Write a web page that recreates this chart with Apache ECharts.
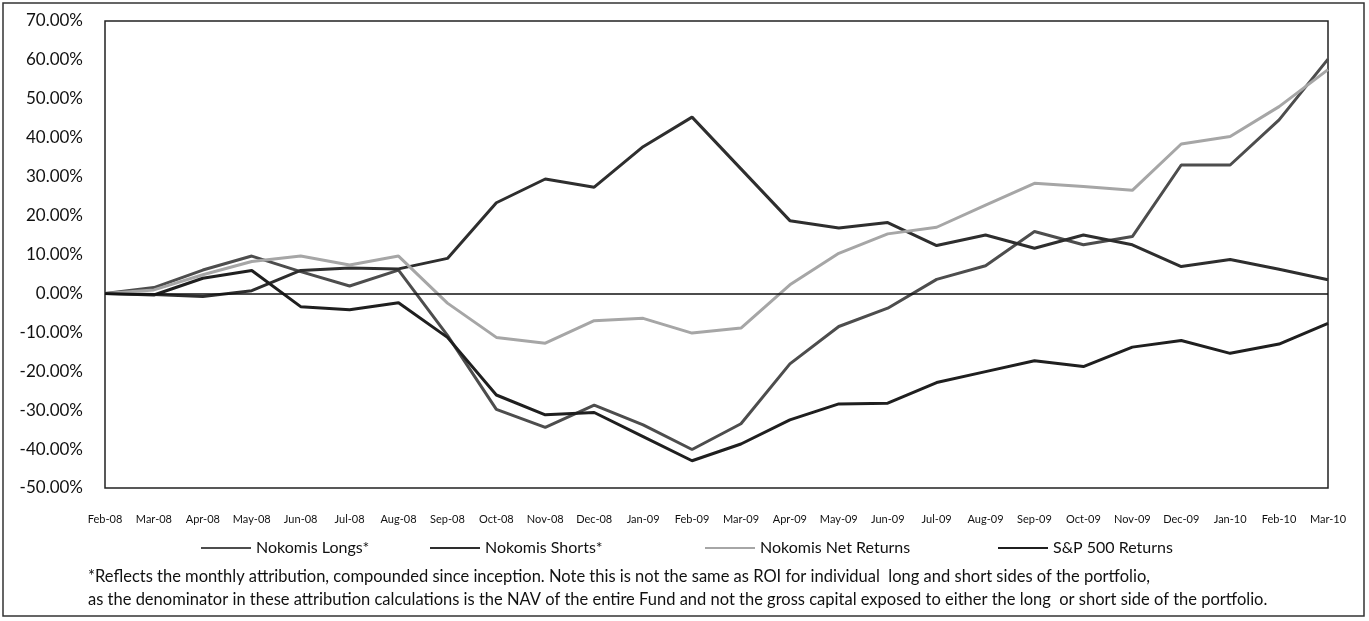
<!DOCTYPE html>
<html>
<head>
<meta charset="utf-8">
<script src="https://cdn.jsdelivr.net/npm/echarts@6/dist/echarts.min.js"></script>
<style>
  html, body { margin: 0; padding: 0; background: #fff; }
  #chart { width: 1369px; height: 621px; }
</style>
</head>
<body>
<div id="chart"></div>
<script>
// Monthly points, Feb-08 through Mar-10
const months = ['Feb-08','Mar-08','Apr-08','May-08','Jun-08','Jul-08','Aug-08','Sep-08','Oct-08','Nov-08','Dec-08','Jan-09','Feb-09','Mar-09','Apr-09','May-09','Jun-09','Jul-09','Aug-09','Sep-09','Oct-09','Nov-09','Dec-09','Jan-10','Feb-10','Mar-10'];

// Cumulative returns in percent
const nokomisLongs  = [0, 1.5, 6.0, 9.6, 5.6, 1.9, 6.0, -10.8, -29.8, -34.4, -28.7, -33.8, -40.1, -33.5, -18.1, -8.5, -3.8, 3.6, 7.1, 15.9, 12.5, 14.6, 33.0, 33.0, 44.6, 60.2];
const nokomisShorts = [0, -0.3, -0.8, 0.7, 5.9, 6.5, 6.3, 9.0, 23.3, 29.4, 27.3, 37.7, 45.3, 32.0, 18.7, 16.8, 18.2, 12.3, 15.0, 11.6, 15.0, 12.5, 6.9, 8.7, 6.2, 3.5];
const nokomisNet    = [0, 0.9, 4.8, 8.2, 9.6, 7.3, 9.6, -2.5, -11.3, -12.8, -7.0, -6.4, -10.2, -8.9, 2.2, 10.3, 15.3, 17.0, 22.7, 28.3, 27.5, 26.5, 38.4, 40.3, 48.0, 57.5];
const sp500Returns  = [0, -0.4, 3.9, 5.9, -3.4, -4.2, -2.4, -11.3, -26.1, -31.2, -30.6, -36.8, -43.0, -38.7, -32.5, -28.4, -28.2, -22.9, -20.1, -17.3, -18.8, -13.8, -12.1, -15.4, -13.0, -7.7];

const seriesNames = ['Nokomis Longs*', 'Nokomis Shorts*', 'Nokomis Net Returns', 'S&P 500 Returns'];

const footnoteLines = [
  '*Reflects the monthly attribution, compounded since inception. Note this is not the same as ROI for individual  long and short sides of the portfolio,',
  'as the denominator in these attribution calculations is the NAV of the entire Fund and not the gross capital exposed to either the long  or short side of the portfolio.'
];

const FONT = 'Lato, "Open Sans", sans-serif';
const colors = ['#4d4d4d', '#2e2e2e', '#a6a6a6', '#1f1f1f'];
const legendLefts = [196, 425, 700, 993];

const chart = echarts.init(document.getElementById('chart'), null, { renderer: 'canvas' });

function lineSeries(name, data, color, extra) {
  return Object.assign({
    name: name,
    type: 'line',
    data: data,
    symbol: 'none',
    smooth: false,
    lineStyle: { color: color, width: 3 },
    itemStyle: { color: color },
    emphasis: { disabled: true },
    animation: false
  }, extra || {});
}

const option = {
  backgroundColor: '#ffffff',
  animation: false,
  grid: {
    left: 105, right: 41, top: 21, bottom: 133,
    show: true, borderColor: '#222', borderWidth: 1.5, backgroundColor: 'transparent'
  },
  legend: seriesNames.map((n, i) => ({
    data: [n],
    left: legendLefts[i],
    top: 535,
    icon: 'rect',
    itemWidth: 50,
    itemHeight: 2,
    itemGap: 4,
    textStyle: { fontFamily: FONT, fontSize: 16, color: '#111' },
    itemStyle: { borderWidth: 0 },
    selectedMode: false
  })),
  xAxis: {
    type: 'category',
    data: months,
    boundaryGap: false,
    axisLine: { show: false, onZero: false },
    axisTick: { show: false },
    splitLine: { show: false },
    axisLabel: { interval: 0, margin: 26, fontFamily: FONT, fontSize: 11, color: '#111' }
  },
  yAxis: {
    type: 'value',
    min: -50, max: 70, interval: 10,
    axisLine: { show: false },
    axisTick: { show: false },
    splitLine: { show: false },
    axisLabel: {
      margin: 22, fontFamily: FONT, fontSize: 17, color: '#111',
      formatter: v => v.toFixed(2) + '%'
    }
  },
  series: [
    lineSeries(seriesNames[0], nokomisLongs, colors[0], {
      markLine: {
        silent: true, symbol: 'none', label: { show: false },
        lineStyle: { color: '#111', width: 1.5, type: 'solid' },
        data: [{ yAxis: 0 }],
        animation: false
      }
    }),
    lineSeries(seriesNames[1], nokomisShorts, colors[1]),
    lineSeries(seriesNames[2], nokomisNet, colors[2]),
    lineSeries(seriesNames[3], sp500Returns, colors[3])
  ],
  graphic: [
    {
      type: 'rect', silent: true,
      shape: { x: 3, y: 3, width: 1361, height: 613 },
      style: { fill: 'none', stroke: '#333', lineWidth: 1.5 }
    },
    {
      type: 'text', left: 88, top: 568, silent: true,
      style: { text: footnoteLines[0], font: '16.5px ' + FONT, fill: '#111' }
    },
    {
      type: 'text', left: 88, top: 591, silent: true,
      style: { text: footnoteLines[1], font: '16.5px ' + FONT, fill: '#111' }
    }
  ]
};

chart.setOption(option);
</script>
</body>
</html>
